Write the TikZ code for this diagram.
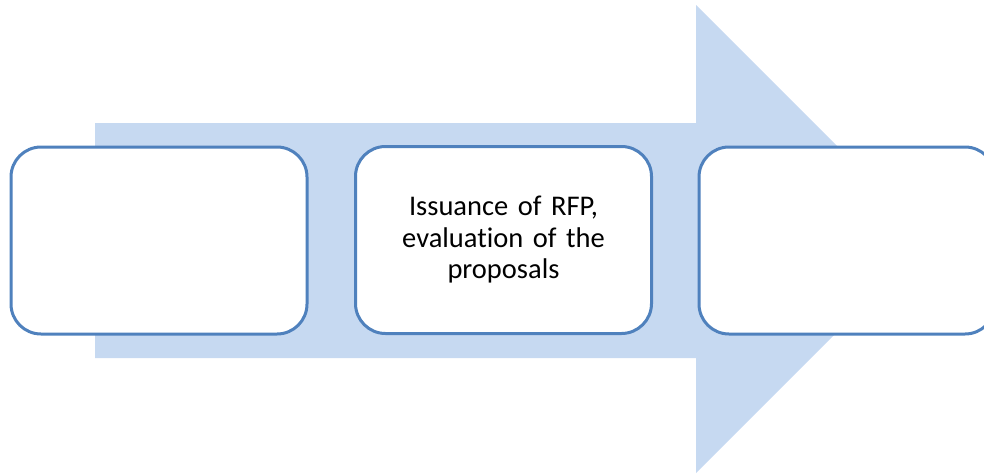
\documentclass[tikz,border=0pt]{standalone}
\usepackage{fontspec}
\setmainfont[Ligatures={NoCommon}]{Carlito}
\definecolor{arrowfill}{HTML}{C6D9F1}
\definecolor{boxline}{HTML}{4F81BD}
\begin{document}
\begin{tikzpicture}[x=1pt,y=-1pt,
  stepbox/.style={draw=boxline, line width=3pt, fill=white, rounded corners=30pt,
    minimum width=296pt, minimum height=187pt, inner sep=0pt,
    align=center, text width=280pt,
    font=\fontsize{28.5}{31.5}\selectfont}]
\useasboundingbox (0,0) rectangle (984,474);
\clip (0,0) rectangle (984,474);
\fill[arrowfill] (95,123) -- (696,123) -- (696,5) -- (930,239) -- (696,473) -- (696,358) -- (95,358) -- cycle;
\node[stepbox] (b1) at (159,240.5) {};
\node[stepbox] (b2) at (503.5,240) {Issuance of RFP,\\evaluation of the\\proposals};
\node[stepbox] (b3) at (847,240.5) {};
\end{tikzpicture}
\end{document}
